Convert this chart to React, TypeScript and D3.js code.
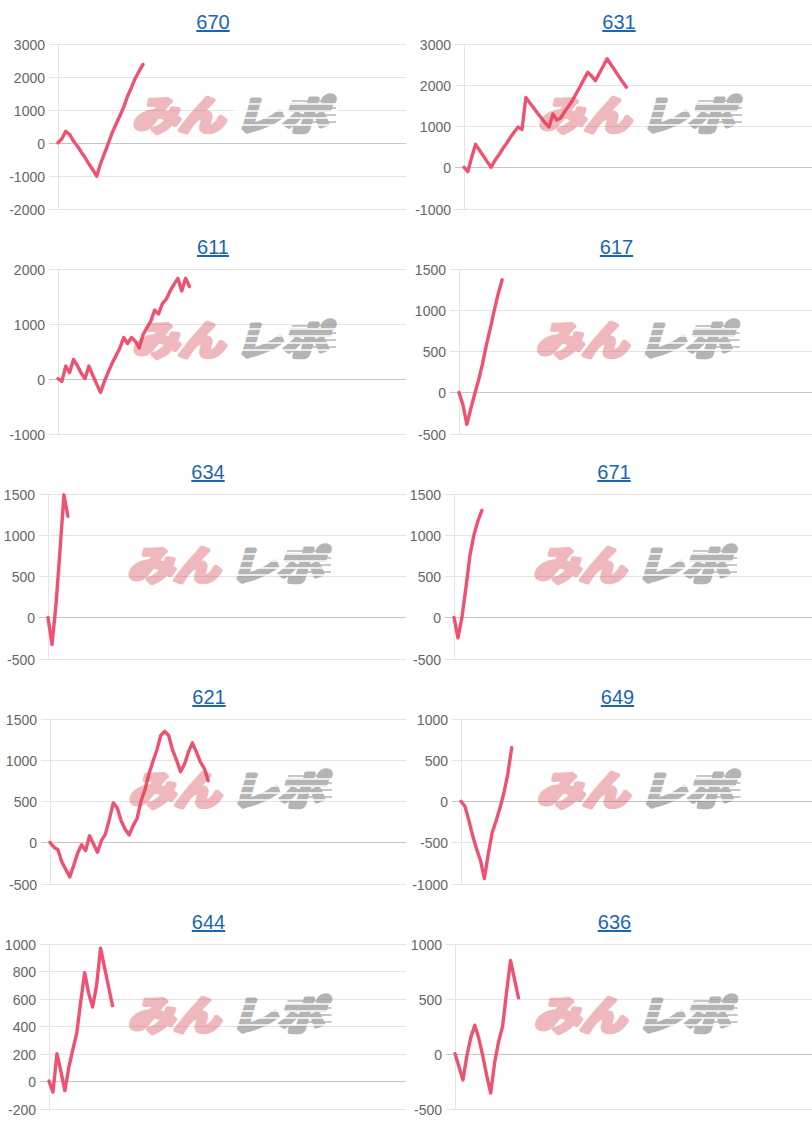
import React from 'react';
import * as d3 from 'd3';

// chart titles (machine numbers)
const titles = ['670', '631', '611', '617', '634', '671', '621', '649', '644', '636'];

// [game, cumulative result]
const s670 = [[0,0],[1,120],[2,350],[3,250],[4,50],[5,-100],[6,-280],[7,-450],[8,-650],[9,-820],[10,-1020],[11,-640],[12,-330],[13,-20],[14,300],[15,560],[16,820],[17,1080],[18,1420],[19,1680],[20,1960],[21,2180],[22,2380]];
const s631 = [[0,0],[1,-100],[2,250],[3,560],[4,420],[5,280],[6,140],[7,0],[8,170],[9,300],[10,450],[11,580],[12,730],[13,860],[14,980],[15,920],[16,1700],[17,1570],[18,1450],[19,1320],[20,1200],[21,1080],[22,980],[23,1300],[24,1150],[25,1200],[26,1350],[27,1480],[28,1620],[29,1790],[30,1960],[31,2140],[32,2310],[33,2220],[34,2110],[35,2290],[36,2460],[37,2640],[38,2500],[39,2360],[40,2220],[41,2080],[42,1950]];
const s611 = [[0,0],[1,-50],[2,230],[3,110],[4,350],[5,240],[6,100],[7,0],[8,230],[9,60],[10,-100],[11,-250],[12,-50],[13,120],[14,280],[15,420],[16,560],[17,750],[18,640],[19,750],[20,680],[21,560],[22,800],[23,930],[24,1050],[25,1250],[26,1180],[27,1370],[28,1450],[29,1600],[30,1720],[31,1830],[32,1600],[33,1830],[34,1680]];
const s617 = [[0,0],[1,-150],[2,-390],[3,-200],[4,-20],[5,150],[6,350],[7,580],[8,780],[9,1000],[10,1200],[11,1370]];
const s634 = [[0,0],[1,-330],[2,150],[3,800],[4,1490],[5,1230]];
const s671 = [[0,0],[1,-250],[2,0],[3,360],[4,750],[5,1000],[6,1170],[7,1300]];
const s621 = [[0,0],[1,-60],[2,-90],[3,-240],[4,-330],[5,-420],[6,-280],[7,-130],[8,-30],[9,-100],[10,80],[11,-20],[12,-120],[13,20],[14,100],[15,280],[16,480],[17,420],[18,260],[19,160],[20,90],[21,200],[22,290],[23,500],[24,640],[25,830],[26,980],[27,1120],[28,1300],[29,1350],[30,1300],[31,1120],[32,1000],[33,860],[34,950],[35,1100],[36,1210],[37,1100],[38,980],[39,900],[40,750]];
const s649 = [[0,0],[1,-60],[2,-230],[3,-420],[4,-580],[5,-720],[6,-940],[7,-640],[8,-380],[9,-240],[10,-80],[11,100],[12,330],[13,650]];
const s644 = [[0,0],[1,-80],[2,200],[3,70],[4,-70],[5,100],[6,230],[7,350],[8,580],[9,790],[10,640],[11,540],[12,700],[13,970],[14,830],[15,690],[16,550]];
const s636 = [[0,0],[1,-120],[2,-240],[3,-20],[4,150],[5,260],[6,140],[7,-20],[8,-200],[9,-360],[10,-80],[11,110],[12,250],[13,560],[14,850],[15,680],[16,510]];

const series = [s670, s631, s611, s617, s634, s671, s621, s649, s644, s636];

// y tick labels per chart
const yTicks = [
  [-2000, -1000, 0, 1000, 2000, 3000],
  [-1000, 0, 1000, 2000, 3000],
  [-1000, 0, 1000, 2000],
  [-500, 0, 500, 1000, 1500],
  [-500, 0, 500, 1000, 1500],
  [-500, 0, 500, 1000, 1500],
  [-500, 0, 500, 1000, 1500],
  [-1000, -500, 0, 500, 1000],
  [-200, 0, 200, 400, 600, 800, 1000],
  [-500, 0, 500, 1000],
];

const W = 812;
const H = 1125;
const CELL_W = 406;
const CELL_H = 225;
const SLOTS = 90;
const axisX = [58, 58, 58, 53, 48, 48, 50, 55, 49, 49];
const FONT = '"Liberation Sans", Arial, sans-serif';
const LINE_COLOR = '#ef5271';
const JP = '"Noto Sans CJK JP", sans-serif';

function Watermark({ cx, oy }: { cx: number; oy: number }) {
  const streaks = [104, 111, 118, 125];
  return (
    <g style={{ pointerEvents: 'none' }}>
      <text x={cx - 100} y={oy + 130} textLength={92} lengthAdjust="spacingAndGlyphs"
        fontFamily={JP} fontSize={40} fontWeight={700} fontStyle="italic"
        fill="rgb(214,72,82)" stroke="rgb(214,72,82)" strokeWidth={4.5}
        strokeLinejoin="round" opacity={0.38}>みん</text>
      <g opacity={0.55}>
        <text x={cx + 2} y={oy + 130} textLength={94} lengthAdjust="spacingAndGlyphs"
          fontFamily={JP} fontSize={40} fontWeight={700} fontStyle="italic"
          fill="rgb(120,120,120)" stroke="rgb(120,120,120)" strokeWidth={4}
          strokeLinejoin="round">レポ</text>
        {streaks.map((s, k) => (
          <line key={s} x1={cx + 60 + k * 4} x2={cx + 104} y1={oy + s - 3} y2={oy + s - 3}
            stroke="rgb(120,120,120)" strokeWidth={1.5} />
        ))}
      </g>
      {streaks.map(s => (
        <line key={s} x1={cx + 2} x2={cx + 106} y1={oy + s} y2={oy + s}
          stroke="#fff" strokeWidth={1.3} />
      ))}
    </g>
  );
}

function MiniChart({ i }: { i: number }) {
  const col = i % 2;
  const row = Math.floor(i / 2);
  const ox = col * CELL_W;
  const oy = row * CELL_H;
  const left = ox + axisX[i];
  const right = ox + CELL_W;
  const ticks = yTicks[i];
  const data = series[i];

  const x = d3.scaleLinear().domain([0, SLOTS]).range([left, right]);
  const y = d3.scaleLinear()
    .domain([ticks[0], ticks[ticks.length - 1]])
    .range([oy + 208.5, oy + 44]);
  const line = d3.line<number[]>().x(d => x(d[0])).y(d => y(d[1]));

  const cx = (left + right) / 2;
  return (
    <g>
      <text x={cx - 19} y={oy + 29} textAnchor="middle" fontFamily={FONT}
        fontSize={20} fill="#1b66b1" textDecoration="underline">{titles[i]}</text>
      {ticks.map(t => {
        const yy = Math.round(y(t)) + 0.5;
        return (
          <g key={t}>
            <line x1={left - 9} x2={right} y1={yy} y2={yy}
              stroke={t === 0 ? '#c6c6c6' : '#e4e4e4'} strokeWidth={1} />
            <text x={left - 13} y={yy + 5} textAnchor="end" fontFamily={FONT}
              fontSize={14} fill="#666">{t}</text>
          </g>
        );
      })}
      <line x1={Math.round(left) + 0.5} x2={Math.round(left) + 0.5}
        y1={y(ticks[ticks.length - 1])} y2={y(ticks[0]) + 1} stroke="#e4e4e4" />
      <path d={line(data) || ''} fill="none" stroke={LINE_COLOR} strokeWidth={3.4}
        strokeLinejoin="round" strokeLinecap="round" />
      <Watermark cx={cx} oy={oy} />
    </g>
  );
}

export default function App() {
  return (
    <svg width={W} height={H} style={{ position: 'absolute', left: 0, top: 0, background: '#fff' }}>
      <rect width={W} height={H} fill="#fff" />
      {titles.map((_, i) => <MiniChart key={i} i={i} />)}
    </svg>
  );
}
